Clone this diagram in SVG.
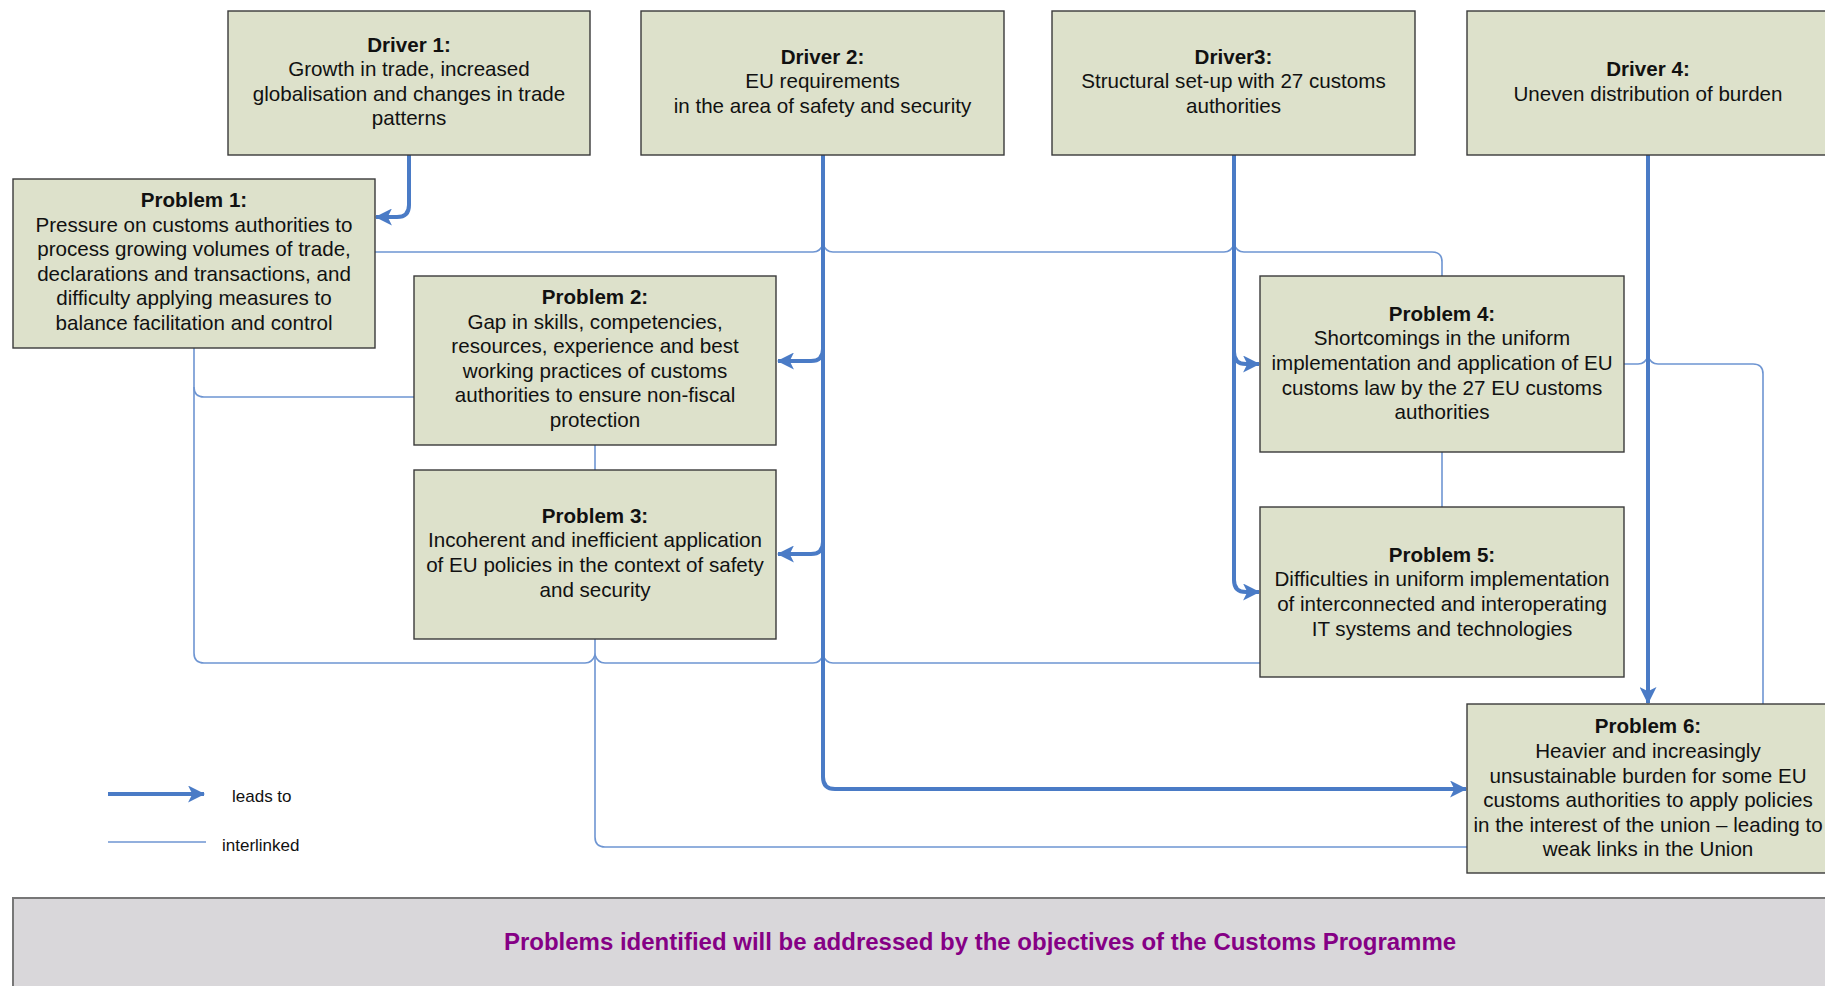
<svg xmlns="http://www.w3.org/2000/svg" width="1825" height="986" viewBox="0 0 1825 986">
<defs>
<style>
.box{fill:#DDE1CB;stroke:#3a3a3a;stroke-width:1.4}
.t{font-family:"Liberation Sans",Arial,sans-serif;font-size:20.6px;fill:#111;text-anchor:middle}
.b{font-weight:bold}
.lead{fill:none;stroke:#4A7BC6;stroke-width:4}
.link{fill:none;stroke:#6E95D2;stroke-width:1.6}
.leg{font-family:"Liberation Sans",Arial,sans-serif;font-size:17px;fill:#111}
</style>
<marker id="ah" viewBox="0 0 16 16" refX="15" refY="8" markerWidth="17" markerHeight="17" markerUnits="userSpaceOnUse" orient="auto">
<path d="M0,0 L16,8 L0,16 L4,8 z" fill="#4A7BC6"/>
</marker>
</defs>
<rect width="1825" height="986" fill="#fff"/>

<g id="connectors">
<path class="link" d="M375,252 H813 C818,252 821,250 823,244 C825,250 828,252 833,252 H1224 C1229,252 1232,250 1234,244 C1236,250 1239,252 1244,252 H1432 Q1442,252 1442,262 V276"/>
<path class="link" d="M194,348 V387 Q194,397 204,397 H414"/>
<path class="link" d="M194,387 V653 Q194,663 204,663 H585 C590,663 593,661 595,655 C597,661 600,663 605,663 H813 C818,663 821,661 823,655 C825,661 828,663 833,663 H1260"/>
<path class="link" d="M595,445 V470"/>
<path class="link" d="M595,639 V837 Q595,847 605,847 H1467"/>
<path class="link" d="M1442,452 V507"/>
<path class="link" d="M1624,364 H1638 C1643,364 1646,362 1648,356 C1650,362 1653,364 1658,364 H1753 Q1763,364 1763,374 V704"/>
<path class="lead" d="M409,155 V205 Q409,217 397,217 H376" marker-end="url(#ah)"/>
<path class="lead" d="M823,155 V777 Q823,789 835,789 H1466" marker-end="url(#ah)"/>
<path class="lead" d="M823,349 Q823,361 811,361 H778" marker-end="url(#ah)"/>
<path class="lead" d="M823,542 Q823,554 811,554 H778" marker-end="url(#ah)"/>
<path class="lead" d="M1234,155 V580 Q1234,592 1246,592 H1259" marker-end="url(#ah)"/>
<path class="lead" d="M1234,352 Q1234,364 1246,364 H1259" marker-end="url(#ah)"/>
<path class="lead" d="M1648,155 V703" marker-end="url(#ah)"/>
</g>

<g id="driver1">
<rect class="box" x="228" y="11" width="362" height="144"/>
<text class="t b" x="409" y="51.5">Driver 1:</text>
<text class="t" x="409" y="76">Growth in trade, increased</text>
<text class="t" x="409" y="100.5">globalisation and changes in trade</text>
<text class="t" x="409" y="125">patterns</text>
</g>
<g id="driver2">
<rect class="box" x="641" y="11" width="363" height="144"/>
<text class="t b" x="822.5" y="63.5">Driver 2:</text>
<text class="t" x="822.5" y="88">EU requirements</text>
<text class="t" x="822.5" y="112.5">in the area of safety and security</text>
</g>
<g id="driver3">
<rect class="box" x="1052" y="11" width="363" height="144"/>
<text class="t b" x="1233.5" y="63.5">Driver3:</text>
<text class="t" x="1233.5" y="88">Structural set-up with 27 customs</text>
<text class="t" x="1233.5" y="112.5">authorities</text>
</g>
<g id="driver4">
<rect class="box" x="1467" y="11" width="400" height="144"/>
<text class="t b" x="1648" y="76">Driver 4:</text>
<text class="t" x="1648" y="100.5">Uneven distribution of burden</text>
</g>

<g id="problem1">
<rect class="box" x="13" y="179" width="362" height="169"/>
<text class="t b" x="194" y="207.3">Problem 1:</text>
<text class="t" x="194" y="231.8">Pressure on customs authorities to</text>
<text class="t" x="194" y="256.3">process growing volumes of trade,</text>
<text class="t" x="194" y="280.8">declarations and transactions, and</text>
<text class="t" x="194" y="305.3">difficulty applying measures to</text>
<text class="t" x="194" y="329.8">balance facilitation and control</text>
</g>
<g id="problem2">
<rect class="box" x="414" y="276" width="362" height="169"/>
<text class="t b" x="595" y="304">Problem 2:</text>
<text class="t" x="595" y="328.6">Gap in skills, competencies,</text>
<text class="t" x="595" y="353.2">resources, experience and best</text>
<text class="t" x="595" y="377.8">working practices of customs</text>
<text class="t" x="595" y="402.4">authorities to ensure non-fiscal</text>
<text class="t" x="595" y="427">protection</text>
</g>
<g id="problem3">
<rect class="box" x="414" y="470" width="362" height="169"/>
<text class="t b" x="595" y="522.7">Problem 3:</text>
<text class="t" x="595" y="547.3">Incoherent and inefficient application</text>
<text class="t" x="595" y="571.9">of EU policies in the context of safety</text>
<text class="t" x="595" y="596.5">and security</text>
</g>
<g id="problem4">
<rect class="box" x="1260" y="276" width="364" height="176"/>
<text class="t b" x="1442" y="320.7">Problem 4:</text>
<text class="t" x="1442" y="345.3">Shortcomings in the uniform</text>
<text class="t" x="1442" y="369.9">implementation and application of EU</text>
<text class="t" x="1442" y="394.5">customs law by the 27 EU customs</text>
<text class="t" x="1442" y="419.1">authorities</text>
</g>
<g id="problem5">
<rect class="box" x="1260" y="507" width="364" height="170"/>
<text class="t b" x="1442" y="561.7">Problem 5:</text>
<text class="t" x="1442" y="586.3">Difficulties in uniform implementation</text>
<text class="t" x="1442" y="610.9">of interconnected and interoperating</text>
<text class="t" x="1442" y="635.5">IT systems and technologies</text>
</g>
<g id="problem6">
<rect class="box" x="1467" y="704" width="400" height="169"/>
<text class="t b" x="1648" y="733.3">Problem 6:</text>
<text class="t" x="1648" y="757.9">Heavier and increasingly</text>
<text class="t" x="1648" y="782.5">unsustainable burden for some EU</text>
<text class="t" x="1648" y="807.1">customs authorities to apply policies</text>
<text class="t" x="1648" y="831.7">in the interest of the union – leading to</text>
<text class="t" x="1648" y="856.3">weak links in the Union</text>
</g>

<g id="legend">
<path class="lead" d="M108,794 H204" marker-end="url(#ah)"/>
<text class="leg" x="232" y="802">leads to</text>
<path class="link" d="M108,842 H206"/>
<text class="leg" x="222" y="851">interlinked</text>
</g>

<g id="banner">
<rect x="13" y="898" width="1850" height="120" fill="#D9D7DA" stroke="#777" stroke-width="2"/>
<text x="980" y="950" font-family="'Liberation Sans',Arial,sans-serif" font-size="24" font-weight="bold" fill="#850085" text-anchor="middle">Problems identified will be addressed by the objectives of the Customs Programme</text>
</g>
</svg>
